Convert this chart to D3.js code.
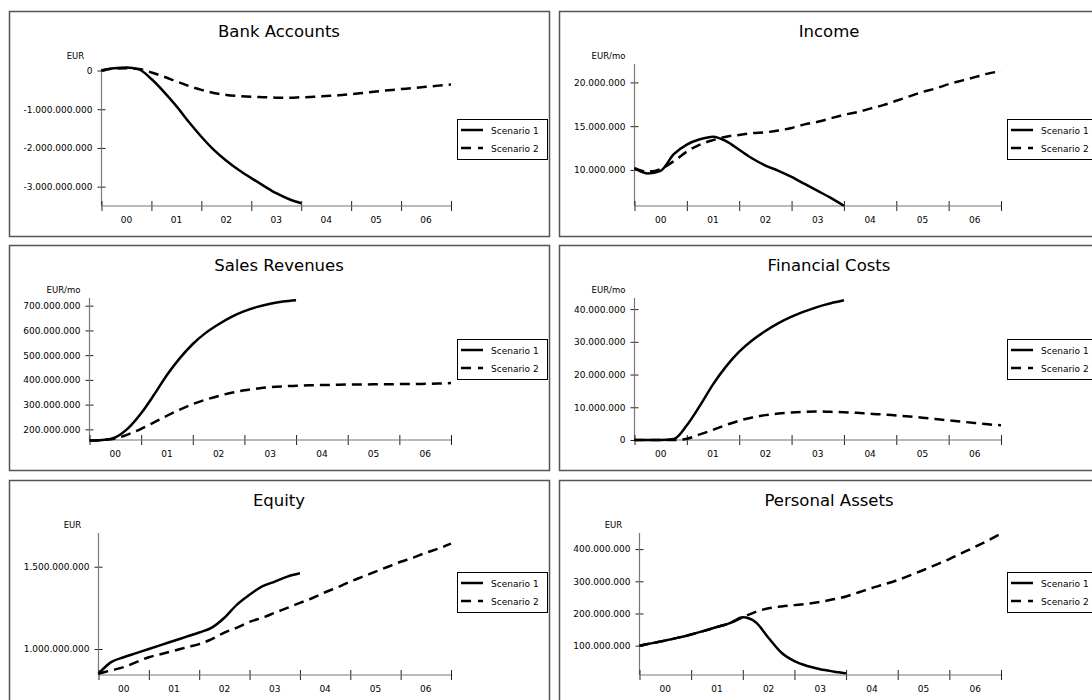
<!DOCTYPE html>
<html><head><meta charset="utf-8">
<script src="https://cdn.jsdelivr.net/npm/d3@7"></script>
<style>
html,body{margin:0;padding:0;background:#fff;}
svg{display:block;font-family:"DejaVu Sans",Verdana,sans-serif;}
</style></head>
<body>
<script>
// ---------- data ----------
const yearLabels = ["00","01","02","03","04","05","06"];
const legendLabels = ["Scenario 1","Scenario 2"];
const t1 = [0,0.25,0.5,0.75,1,1.25,1.5,1.75,2,2.25,2.5,2.75,3,3.25,3.5,3.75,4];
const t2 = [0,0.25,0.5,0.75,1,1.25,1.5,1.75,2,2.25,2.5,2.75,3,3.25,3.5,3.75,4,
            4.25,4.5,4.75,5,5.25,5.5,5.75,6,6.25,6.5,6.75,7];

const titles = ["Bank Accounts","Income","Sales Revenues","Financial Costs","Equity","Personal Assets"];
const units  = ["EUR","EUR/mo","EUR/mo","EUR/mo","EUR","EUR"];

// Bank Accounts (EUR)
const bankS1 = [0,0.06e9,0.08e9,0.03e9,-0.22e9,-0.55e9,-0.92e9,-1.33e9,-1.71e9,-2.05e9,-2.33e9,-2.57e9,-2.78e9,-2.98e9,-3.17e9,-3.32e9,-3.43e9];
const bankS2 = [0,0.05e9,0.06e9,0.04e9,-0.05e9,-0.16e9,-0.28e9,-0.40e9,-0.50e9,-0.58e9,-0.63e9,-0.66e9,-0.68e9,-0.69e9,-0.70e9,-0.70e9,-0.69e9,
                -0.68e9,-0.66e9,-0.64e9,-0.61e9,-0.58e9,-0.54e9,-0.51e9,-0.48e9,-0.45e9,-0.42e9,-0.39e9,-0.36e9];
const bankTicks = [0,-1e9,-2e9,-3e9];

// Income (EUR/mo)
const incS1 = [10.2e6,9.6e6,9.9e6,11.8e6,12.9e6,13.5e6,13.8e6,13.3e6,12.3e6,11.3e6,10.5e6,9.9e6,9.2e6,8.4e6,7.6e6,6.8e6,5.9e6];
const incS2 = [10.2e6,9.8e6,10.1e6,11.0e6,12.1e6,12.9e6,13.4e6,13.8e6,14.0e6,14.2e6,14.3e6,14.5e6,14.8e6,15.2e6,15.5e6,15.9e6,16.3e6,
               16.6e6,17.0e6,17.4e6,17.9e6,18.4e6,18.9e6,19.3e6,19.8e6,20.2e6,20.6e6,21.0e6,21.3e6];
const incTicks = [10e6,15e6,20e6];

// Sales Revenues (EUR/mo)
const salS1 = [155e6,157e6,168e6,205e6,265e6,340e6,420e6,488e6,545e6,590e6,625e6,655e6,678e6,695e6,708e6,717e6,722e6];
const salS2 = [155e6,157e6,163e6,180e6,202e6,228e6,255e6,280e6,302e6,320e6,335e6,348e6,358e6,365e6,371e6,374e6,376e6,
               378e6,379e6,380e6,381e6,381e6,382e6,382e6,383e6,383e6,384e6,385e6,387e6];
const salTicks = [200e6,300e6,400e6,500e6,600e6,700e6];

// Financial Costs (EUR/mo)
const finS1 = [0,0,0,0.3e6,4.5e6,10.5e6,17e6,22.5e6,27e6,30.5e6,33.3e6,35.7e6,37.7e6,39.3e6,40.7e6,41.8e6,42.7e6];
const finS2 = [0,0,0,0,0.4e6,1.7e6,3.1e6,4.6e6,5.9e6,6.9e6,7.6e6,8.1e6,8.4e6,8.6e6,8.7e6,8.6e6,8.5e6,
               8.3e6,8.0e6,7.8e6,7.5e6,7.2e6,6.8e6,6.4e6,6.0e6,5.6e6,5.2e6,4.8e6,4.5e6];
const finTicks = [0,10e6,20e6,30e6,40e6];

// Equity (EUR)
const eqS1 = [0.85e9,0.92e9,0.95e9,0.975e9,1.0e9,1.025e9,1.05e9,1.075e9,1.1e9,1.13e9,1.19e9,1.27e9,1.33e9,1.38e9,1.41e9,1.44e9,1.46e9];
const eqS2 = [0.85e9,0.87e9,0.89e9,0.92e9,0.95e9,0.97e9,0.99e9,1.01e9,1.03e9,1.06e9,1.1e9,1.13e9,1.165e9,1.19e9,1.22e9,1.25e9,1.28e9,
              1.31e9,1.345e9,1.375e9,1.41e9,1.44e9,1.47e9,1.5e9,1.53e9,1.555e9,1.585e9,1.61e9,1.64e9];
const eqTicks = [1e9,1.5e9];

// Personal Assets (EUR)
const paS1 = [100e6,108e6,116e6,125e6,135e6,146e6,158e6,170e6,188e6,173e6,124e6,78e6,52e6,37e6,27e6,20e6,14e6];
const paS2 = [100e6,108e6,116e6,125e6,135e6,146e6,158e6,170e6,188e6,205e6,216e6,222e6,226e6,230e6,236e6,244e6,253e6,
              266e6,279e6,291e6,304e6,319e6,335e6,352e6,369e6,388e6,407e6,427e6,448e6];
const paTicks = [100e6,200e6,300e6,400e6];

const s1All = [bankS1,incS1,salS1,finS1,eqS1,paS1];
const s2All = [bankS2,incS2,salS2,finS2,eqS2,paS2];
const tickAll = [bankTicks,incTicks,salTicks,finTicks,eqTicks,paTicks];
// y domains (value at x-axis, value at top of y-axis)
const yDomains = [[-3.5e9,0.05e9],[5.88e6,22.1e6],[157e6,731e6],[0,43.4e6],[0.842e9,1.705e9],[9e6,450e6]];

// ---------- layout ----------
const W = 1092, H = 700;
const colX = [9,559], rowY = [11,245,480];
const PW = 540, PH = 225;
const axisY = 195, axisEnd = 442;
const topPx = [57.6,53,53,53,53,53];
const legendTop = [108,94,92];

const loc = d3.formatLocale({decimal:",",thousands:".",grouping:[3],currency:["","€"],minus:"-"});
const fmt = loc.format(",d");

const svg = d3.select("body").append("svg").attr("width",W).attr("height",H);

titles.forEach((title,i)=>{
  const col = i%2, row = Math.floor(i/2);
  const g = svg.append("g").attr("transform",`translate(${colX[col]},${rowY[row]})`);
  g.append("rect").attr("x",0.5).attr("y",0.5).attr("width",PW).attr("height",PH)
    .attr("fill","#fff").attr("stroke","#555").attr("stroke-width",1.5);
  g.append("text").attr("x",PW/2).attr("y",26).attr("text-anchor","middle")
    .attr("font-size",16.5).attr("fill","#000").text(title);

  const y = d3.scaleLinear().domain(yDomains[i]).range([axisY, topPx[i]]);
  const ticks = tickAll[i];
  const tmp = g.append("g").attr("font-size",9);
  let maxW = 0;
  ticks.forEach(v=>{ const tt = tmp.append("text").text(fmt(v)); maxW = Math.max(maxW, tt.node().getComputedTextLength()); });
  tmp.remove();
  const ax = Math.round(maxW + 23) + 0.5;
  const x = d3.scaleLinear().domain([0,7]).range([ax, axisEnd]);

  const yAxis = d3.axisLeft(y).tickValues(ticks).tickFormat(fmt).tickSize(4).tickPadding(5);
  const ya = g.append("g").attr("transform",`translate(${ax},0)`).call(yAxis);
  ya.select(".domain").remove();
  ya.selectAll(".tick line").attr("x2",4).attr("x1",-4).attr("stroke","#222");
  ya.selectAll(".tick text").attr("font-size",9).attr("font-family","DejaVu Sans").attr("fill","#000");
  g.append("line").attr("x1",ax).attr("x2",ax).attr("y1",axisY).attr("y2",topPx[i])
    .attr("stroke","#777").attr("stroke-width",1.2);

  const xa = g.append("g").attr("transform",`translate(0,${axisY})`)
    .call(d3.axisBottom(x).tickValues([0,1,2,3,4,5,6,7]).tickFormat("").tickSize(5));
  xa.select(".domain").remove();
  xa.selectAll(".tick line").attr("y1",-5).attr("y2",5).attr("stroke","#222");
  g.append("line").attr("x1",ax).attr("x2",axisEnd).attr("y1",axisY).attr("y2",axisY)
    .attr("stroke","#777").attr("stroke-width",1.2);
  g.selectAll(".xl").data(yearLabels).enter().append("text")
    .attr("x",(d,k)=>x(k+0.5)).attr("y",axisY+17).attr("text-anchor","middle")
    .attr("font-size",9).attr("fill","#000").text(d=>d);

  g.append("text").attr("x",ax-26).attr("y",48).attr("text-anchor","middle")
    .attr("font-size",8.5).attr("fill","#000").text(units[i]);

  const line = d3.line().x(d=>x(d[0])).y(d=>y(d[1])).curve(d3.curveMonotoneX);
  g.append("path").datum(s2All[i].map((v,k)=>[t2[k],v])).attr("d",line)
    .attr("fill","none").attr("stroke","#000").attr("stroke-width",2.5).attr("stroke-dasharray","10,6");
  g.append("path").datum(s1All[i].map((v,k)=>[t1[k],v])).attr("d",line)
    .attr("fill","none").attr("stroke","#000").attr("stroke-width",2.5);

  const lt = legendTop[row];
  const lg = g.append("g");
  lg.append("rect").attr("x",448.5).attr("y",lt+0.5).attr("width",90).attr("height",40)
    .attr("fill","#fff").attr("stroke","#000").attr("stroke-width",1);
  legendLabels.forEach((lab,k)=>{
    const yy = lt + 11 + k*18;
    lg.append("line").attr("x1",452).attr("x2",474).attr("y1",yy).attr("y2",yy)
      .attr("stroke","#000").attr("stroke-width",2.5).attr("stroke-dasharray",k? "10,7":null);
    lg.append("text").attr("x",482).attr("y",yy+3.5).attr("font-size",9).attr("fill","#000").text(lab);
  });
});
</script>
</body></html>
